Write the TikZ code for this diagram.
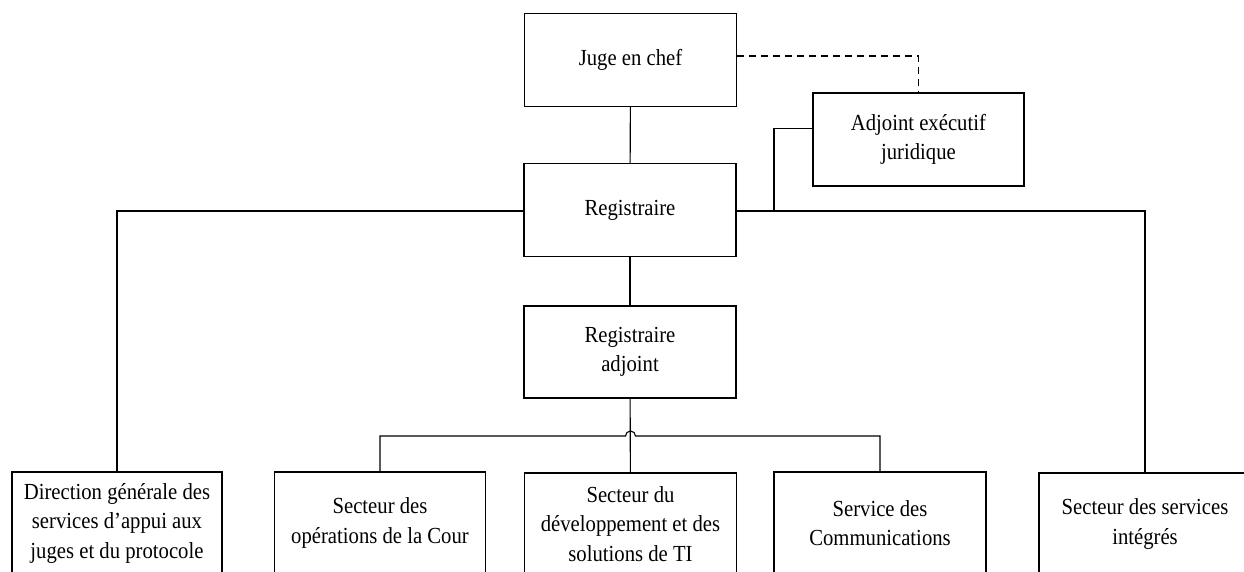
\documentclass[tikz,border=0pt]{standalone}
\usepackage{fontspec}
\setmainfont{Liberation Serif}[FakeStretch=0.9]
\begin{document}
\begin{tikzpicture}[x=1pt,y=-1pt,
  box/.style={draw,line width=1.2pt,align=center,inner sep=0pt,
    minimum width=212pt,minimum height=93pt,font=\fontsize{23}{29.5}\selectfont},
  lowbox/.style={box,minimum height=102pt},
  link/.style={line width=1.1pt},
  dlink/.style={line width=1.1pt,dash pattern=on 7pt off 5pt}]
\useasboundingbox (0,0) rectangle (1244,571);
\clip (0,0) rectangle (1244,571);
\fill[white] (0,0) rectangle (1244,571);
\node[box] (juge) at (630.5,60) {Juge en chef};
\node[box,minimum width=211pt] (adj) at (918.4,139.4) {Adjoint exécutif\\juridique};
\node[box] (reg) at (630,210) {Registraire};
\node[box,minimum height=92pt] (ra) at (630,352) {Registraire\\adjoint};
\node[lowbox,minimum width=210pt] (dir) at (117,523) {Direction générale des\\services d’appui aux\\juges et du protocole};
\node[lowbox,minimum width=211pt] (ops) at (380,523) {Secteur des\\opérations de la Cour};
\node[lowbox] (dev) at (630.5,524) {Secteur du\\développement et des\\solutions de TI};
\node[lowbox] (comm) at (880,523) {Service des\\Communications};
\node[lowbox] (integ) at (1145,524) {Secteur des services\\intégrés};
\coordinate (j) at (630.5,436);
\coordinate (k) at (774,211);
% connectors
\draw[link] (juge) -- (reg);
\draw[link] (reg) -- (ra);
\draw[link] (ra) -- (dev);
\draw[dlink] ([yshift=4pt]juge.east) -| (adj.north);
\draw[link] ([yshift=11pt]adj.west) -| (k);
\draw[link] (reg.west |- k) -| (dir.north);
\draw[link] (reg.east |- k) -| (integ.north);
\draw[link] (ops.north) |- ([xshift=-5pt]j) arc[start angle=180,end angle=0,radius=5pt] -| (comm.north);
\end{tikzpicture}
\end{document}
